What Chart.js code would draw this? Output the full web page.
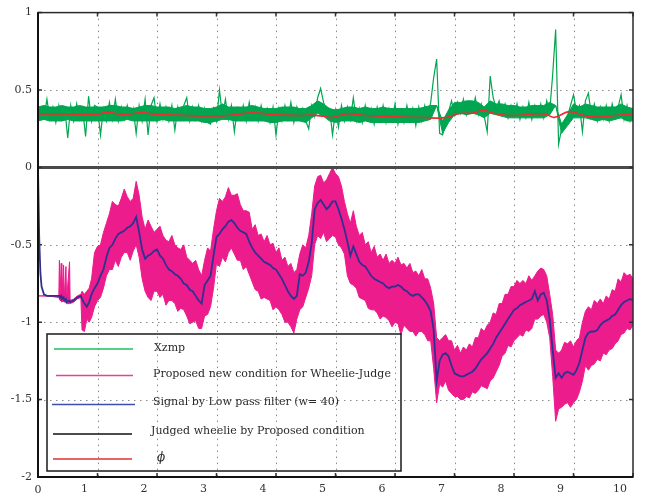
<!DOCTYPE html>
<html><head><meta charset="utf-8">
<script src="https://cdn.jsdelivr.net/npm/chart.js@4"></script>
<style>html,body{margin:0;padding:0;background:#fff}canvas{display:block}</style>
</head><body>
<canvas id="c" width="647" height="500" style="width:647px;height:500px"></canvas>
<script>
// ---------- data ----------
const xTickValues = [0,1,2,3,4,5,6,7,8,9,10];
const yTickValues = [1,0.5,0,-0.5,-1,-1.5,-2];

// bottom signals: irregular start, then sampled every 0.05 s from 0.9 s
const tLowStart = [0,0.02,0.04,0.06,0.1,0.15,0.35,0.36,0.37,0.39,0.40,0.43,0.44,0.47,0.48,0.53,0.54,0.6,0.66,0.72,0.74,0.78,0.82,0.86];
const tLowFrom = 0.9, tLowStep = 0.05;

const lowPass = [
0,-0.45,-0.68,-0.77,-0.82,-0.83,-0.83,-0.83,-0.84,-0.83,-0.85,-0.84,-0.86,-0.85,-0.87,-0.86,-0.87,-0.86,-0.84,-0.83,-0.85,-0.88,-0.90,-0.87,
-0.82,-0.78,-0.75,-0.70,-0.66,-0.58,-0.52,-0.50,-0.46,-0.43,
-0.42,-0.41,-0.39,-0.38,-0.36,-0.32,-0.42,-0.53,-0.59,-0.57,
-0.56,-0.54,-0.53,-0.57,-0.59,-0.63,-0.66,-0.67,-0.69,-0.70,
-0.72,-0.75,-0.76,-0.79,-0.80,-0.83,-0.86,-0.88,-0.76,-0.73,
-0.70,-0.57,-0.45,-0.43,-0.40,-0.38,-0.35,-0.34,-0.36,-0.39,
-0.41,-0.42,-0.43,-0.48,-0.52,-0.55,-0.57,-0.59,-0.61,-0.62,
-0.63,-0.65,-0.66,-0.69,-0.72,-0.76,-0.80,-0.83,-0.85,-0.83,
-0.69,-0.70,-0.68,-0.61,-0.49,-0.27,-0.23,-0.21,-0.24,-0.27,
-0.25,-0.22,-0.22,-0.27,-0.33,-0.40,-0.48,-0.57,-0.51,-0.56,
-0.61,-0.63,-0.64,-0.67,-0.70,-0.72,-0.73,-0.74,-0.75,-0.77,
-0.78,-0.77,-0.77,-0.76,-0.77,-0.79,-0.80,-0.82,-0.83,-0.82,
-0.82,-0.84,-0.86,-0.89,-0.93,-1.05,-1.38,-1.25,-1.21,-1.20,
-1.22,-1.28,-1.33,-1.34,-1.35,-1.35,-1.34,-1.33,-1.32,-1.30,
-1.27,-1.24,-1.22,-1.20,-1.17,-1.14,-1.10,-1.07,-1.04,-1.01,
-0.98,-0.95,-0.92,-0.91,-0.89,-0.88,-0.87,-0.86,-0.85,-0.80,
-0.86,-0.82,-0.81,-0.86,-0.98,-1.18,-1.36,-1.33,-1.36,-1.33,
-1.32,-1.33,-1.34,-1.31,-1.26,-1.18,-1.10,-1.07,-1.06,-1.06,
-1.05,-1.02,-1.00,-0.99,-0.98,-0.96,-0.95,-0.92,-0.89,-0.87,
-0.86,-0.85,-0.86];

const proposedHigh = [
-0.83,-0.83,-0.83,-0.83,-0.83,-0.83,-0.83,-0.60,-0.84,-0.62,-0.84,-0.63,-0.85,-0.64,-0.86,-0.61,-0.86,-0.85,-0.83,-0.82,-0.80,-0.82,-0.80,-0.78,
-0.72,-0.55,-0.51,-0.50,-0.42,-0.36,-0.30,-0.22,-0.24,-0.25,
-0.20,-0.14,-0.19,-0.22,-0.20,-0.09,-0.18,-0.32,-0.40,-0.34,
-0.38,-0.42,-0.40,-0.38,-0.44,-0.47,-0.48,-0.44,-0.50,-0.52,
-0.53,-0.50,-0.58,-0.60,-0.62,-0.60,-0.66,-0.70,-0.60,-0.52,
-0.54,-0.40,-0.28,-0.20,-0.22,-0.19,-0.13,-0.18,-0.18,-0.17,
-0.24,-0.28,-0.28,-0.29,-0.40,-0.37,-0.44,-0.43,-0.48,-0.44,
-0.50,-0.49,-0.55,-0.52,-0.60,-0.58,-0.64,-0.62,-0.68,-0.66,
-0.56,-0.50,-0.52,-0.44,-0.30,-0.12,-0.06,-0.05,-0.10,-0.08,
-0.04,0.0,-0.04,-0.06,-0.12,-0.22,-0.30,-0.36,-0.28,-0.38,
-0.44,-0.42,-0.50,-0.48,-0.55,-0.51,-0.58,-0.56,-0.60,-0.56,
-0.62,-0.60,-0.62,-0.58,-0.63,-0.62,-0.65,-0.62,-0.68,-0.67,
-0.70,-0.66,-0.72,-0.72,-0.78,-0.88,-1.10,-1.12,-1.10,-1.08,
-1.12,-1.12,-1.18,-1.15,-1.20,-1.16,-1.18,-1.14,-1.16,-1.10,
-1.10,-1.04,-1.06,-1.02,-1.00,-0.94,-0.95,-0.88,-0.88,-0.82,
-0.82,-0.77,-0.77,-0.73,-0.75,-0.73,-0.75,-0.70,-0.73,-0.70,
-0.67,-0.65,-0.66,-0.70,-0.82,-0.95,-1.18,-1.20,-1.18,-1.13,
-1.14,-1.12,-1.16,-1.12,-1.10,-1.00,-0.93,-0.90,-0.92,-0.86,
-0.88,-0.85,-0.88,-0.83,-0.85,-0.79,-0.80,-0.72,-0.74,-0.68,
-0.70,-0.69,-0.72];

const proposedLow = [
-0.83,-0.83,-0.83,-0.83,-0.83,-0.83,-0.84,-0.85,-0.86,-0.86,-0.87,-0.86,-0.87,-0.87,-0.88,-0.88,-0.88,-0.87,-0.85,-0.84,-1.05,-1.06,-0.98,-1.00,
-0.97,-0.90,-0.86,-0.84,-0.78,-0.70,-0.66,-0.66,-0.60,-0.64,
-0.58,-0.55,-0.55,-0.60,-0.54,-0.50,-0.58,-0.72,-0.80,-0.84,
-0.86,-0.80,-0.80,-0.84,-0.82,-0.89,-0.86,-0.86,-0.88,-0.93,
-0.91,-0.92,-0.96,-1.01,-1.00,-0.99,-1.04,-1.04,-0.96,-0.95,
-0.90,-0.78,-0.62,-0.64,-0.58,-0.61,-0.55,-0.52,-0.56,-0.60,
-0.60,-0.66,-0.64,-0.69,-0.74,-0.79,-0.80,-0.85,-0.84,-0.85,
-0.86,-0.92,-0.90,-0.92,-0.95,-1.00,-1.00,-1.03,-1.07,-0.98,
-0.92,-0.90,-0.84,-0.78,-0.70,-0.50,-0.44,-0.46,-0.42,-0.48,
-0.46,-0.44,-0.45,-0.50,-0.52,-0.56,-0.70,-0.75,-0.76,-0.78,
-0.84,-0.85,-0.86,-0.91,-0.92,-0.92,-0.94,-0.98,-0.96,-0.97,
-0.99,-1.03,-1.00,-1.01,-1.08,-1.02,-1.04,-1.06,-1.06,-1.09,
-1.06,-1.06,-1.08,-1.12,-1.12,-1.30,-1.52,-1.40,-1.42,-1.38,
-1.44,-1.46,-1.48,-1.48,-1.50,-1.50,-1.48,-1.49,-1.45,-1.46,
-1.44,-1.41,-1.42,-1.43,-1.38,-1.36,-1.32,-1.28,-1.22,-1.20,
-1.15,-1.16,-1.12,-1.10,-1.08,-1.09,-1.05,-1.06,-1.04,-0.98,
-0.98,-0.96,-0.95,-1.00,-1.10,-1.35,-1.64,-1.56,-1.55,-1.53,
-1.52,-1.55,-1.52,-1.50,-1.45,-1.38,-1.28,-1.31,-1.28,-1.27,
-1.24,-1.25,-1.20,-1.21,-1.18,-1.17,-1.14,-1.12,-1.08,-1.07,
-1.04,-1.05,-1.02];

// top: Xzmp samples every 0.05 s
const xzmpStep = 0.05;
const xzmp = [
0.30,0.38,0.32,0.44,0.31,0.39,0.29,0.40,0.31,0.38,
0.19,0.40,0.30,0.41,0.31,0.38,0.20,0.46,0.30,0.40,
0.39,0.21,0.38,0.30,0.42,0.31,0.44,0.30,0.39,0.31,
0.40,0.32,0.38,0.22,0.40,0.30,0.44,0.21,0.40,0.45,
0.30,0.41,0.31,0.39,0.30,0.40,0.24,0.39,0.31,0.40,
0.45,0.30,0.39,0.31,0.40,0.30,0.38,0.29,0.28,0.38,
0.30,0.50,0.33,0.44,0.31,0.40,0.23,0.38,0.31,0.40,
0.30,0.42,0.31,0.39,0.30,0.40,0.31,0.38,0.29,0.39,
0.21,0.38,0.30,0.40,0.31,0.42,0.29,0.39,0.31,0.38,
0.30,0.25,0.40,0.33,0.45,0.51,0.42,0.36,0.38,0.21,
0.37,0.26,0.40,0.30,0.39,0.31,0.45,0.30,0.38,0.29,
0.40,0.31,0.38,0.28,0.39,0.30,0.40,0.29,0.38,0.31,
0.41,0.28,0.37,0.29,0.40,0.30,0.38,0.27,0.39,0.30,
0.40,0.32,0.42,0.58,0.70,0.22,0.21,0.28,0.36,0.43,
0.34,0.42,0.35,0.44,0.34,0.42,0.36,0.45,0.34,0.41,
0.33,0.23,0.59,0.45,0.38,0.43,0.34,0.41,0.32,0.40,
0.33,0.41,0.31,0.39,0.32,0.42,0.31,0.40,0.33,0.41,
0.32,0.43,0.36,0.60,0.89,0.15,0.25,0.30,0.33,0.40,
0.47,0.36,0.40,0.23,0.43,0.48,0.34,0.41,0.30,0.39,
0.31,0.40,0.30,0.41,0.32,0.39,0.47,0.31,0.40,0.30,
0.36];
// dense core of the Xzmp noise, every 0.1 s
const xzmpBandStep = 0.1;
const xzmpCoreHigh = [
0.39,0.40,0.39,0.39,0.40,0.39,0.39,0.40,0.39,0.39,
0.39,0.39,0.40,0.40,0.39,0.39,0.38,0.39,0.40,0.40,
0.39,0.39,0.39,0.38,0.39,0.40,0.39,0.39,0.38,0.38,
0.39,0.41,0.39,0.39,0.39,0.39,0.40,0.39,0.38,0.38,
0.38,0.39,0.39,0.39,0.38,0.38,0.40,0.43,0.41,0.38,
0.37,0.38,0.39,0.39,0.38,0.39,0.38,0.38,0.39,0.38,
0.38,0.38,0.38,0.38,0.38,0.39,0.40,0.40,0.30,0.37,
0.42,0.42,0.43,0.43,0.42,0.39,0.43,0.41,0.41,0.40,
0.40,0.39,0.39,0.40,0.40,0.40,0.42,0.40,0.28,0.34,
0.41,0.39,0.41,0.40,0.39,0.39,0.39,0.39,0.41,0.39,
0.38];
const xzmpCoreLow = [
0.30,0.31,0.30,0.30,0.30,0.31,0.30,0.30,0.30,0.30,
0.30,0.30,0.30,0.30,0.30,0.31,0.30,0.30,0.30,0.30,
0.30,0.31,0.30,0.30,0.30,0.30,0.30,0.30,0.29,0.29,
0.30,0.31,0.31,0.30,0.30,0.30,0.30,0.30,0.30,0.29,
0.29,0.30,0.30,0.30,0.30,0.29,0.32,0.35,0.33,0.30,
0.29,0.30,0.30,0.30,0.29,0.30,0.29,0.29,0.29,0.29,
0.29,0.29,0.29,0.29,0.29,0.30,0.31,0.40,0.22,0.29,
0.34,0.35,0.34,0.35,0.34,0.32,0.35,0.34,0.33,0.32,
0.32,0.32,0.32,0.32,0.32,0.32,0.34,0.40,0.22,0.27,
0.32,0.32,0.32,0.31,0.30,0.31,0.30,0.31,0.32,0.30,
0.30];

const tPhi = [0,0.5,1.0,1.15,1.35,1.55,1.74,1.95,2.2,2.5,2.8,3.1,3.35,3.6,3.85,4.1,4.4,4.6,4.8,4.95,
5.2,5.5,6.0,6.5,6.8,7.1,7.3,7.48,7.65,7.85,8.1,8.4,8.55,8.68,8.93,9.2,9.45,9.7,10.0];
const phi = [0.345,0.345,0.343,0.357,0.345,0.345,0.355,0.343,0.34,0.335,0.332,0.333,0.343,0.353,0.345,0.338,0.335,0.338,0.33,0.322,
0.347,0.335,0.327,0.322,0.32,0.348,0.35,0.368,0.35,0.337,0.337,0.347,0.34,0.323,0.36,0.333,0.325,0.335,0.342];
const tJudged = [0,10];
const judged = [0,0];

const legendLabels = ['Xzmp','Proposed new condition for Wheelie-Judge','Signal by Low pass filter (w= 40)','Judged wheelie by Proposed condition','\u03D5'];

// ---------- helpers ----------
const grid = (n, start, step) => Array.from({length:n}, (_, i) => +(start + i * step).toFixed(3));
const tLow = tLowStart.concat(grid(lowPass.length - tLowStart.length, tLowFrom, tLowStep));
const tX = grid(xzmp.length, 0, xzmpStep);
const tBand = grid(xzmpCoreHigh.length, 0, xzmpBandStep);
const pts = (ts, vs) => vs.map((v, i) => ({x: ts[i], y: v}));

const C = {green:'#00a650', pink:'#ec1c8c', blue:'#2e3192', red:'#ee2d2f', black:'#4a4a4a'};
const FONT = '"DejaVu Serif", serif';

const gridPlugin = {
  id:'dotGrid',
  beforeDatasetsDraw(chart){
    const {ctx, chartArea:a, scales:{x, y}} = chart;
    ctx.save();
    ctx.strokeStyle = '#8a8a8a'; ctx.lineWidth = 1; ctx.setLineDash([1.5, 4.5]);
    x.ticks.forEach(t => {
      if (t.value <= x.min || t.value >= x.max) return;
      const p = Math.round(x.getPixelForValue(t.value)) + 0.5;
      ctx.beginPath(); ctx.moveTo(p, a.top); ctx.lineTo(p, a.bottom); ctx.stroke();
    });
    y.ticks.forEach(t => {
      if (t.value <= y.min || t.value >= y.max || t.value === 0) return;
      const p = Math.round(y.getPixelForValue(t.value)) + 0.5;
      ctx.beginPath(); ctx.moveTo(a.left, p); ctx.lineTo(a.right, p); ctx.stroke();
    });
    ctx.restore();
  }
};

const framePlugin = {
  id:'frame',
  afterDatasetsDraw(chart){
    const {ctx, chartArea:a, scales:{x, y}} = chart;
    ctx.save();
    ctx.setLineDash([]);
    ctx.strokeStyle = '#333'; ctx.lineWidth = 1.5;
    x.ticks.forEach(t => {
      const p = x.getPixelForValue(t.value);
      ctx.beginPath(); ctx.moveTo(p, a.top); ctx.lineTo(p, a.top + 4);
      ctx.moveTo(p, a.bottom); ctx.lineTo(p, a.bottom - 4); ctx.stroke();
    });
    y.ticks.forEach(t => {
      const p = y.getPixelForValue(t.value);
      ctx.beginPath(); ctx.moveTo(a.left, p); ctx.lineTo(a.left + 4, p);
      ctx.moveTo(a.right, p); ctx.lineTo(a.right - 4, p); ctx.stroke();
    });
    ctx.strokeStyle = '#2a2a2a'; ctx.lineWidth = 1.5;
    ctx.strokeRect(a.left, a.top, a.right - a.left, a.bottom - a.top);
    ctx.strokeStyle = '#111'; ctx.lineWidth = 2;
    ctx.beginPath(); ctx.moveTo(a.left, a.top); ctx.lineTo(a.left, a.bottom); ctx.lineTo(a.right, a.bottom); ctx.stroke();

    // x label for 0 sits under the y axis
    ctx.fillStyle = '#333'; ctx.font = '11px ' + FONT;
    ctx.textAlign = 'center'; ctx.textBaseline = 'middle';
    ctx.fillText('0', x.getPixelForValue(0), a.bottom + 13);

    // legend box
    const L = 47, T = 334, R = 401, B = 471;
    ctx.strokeStyle = '#1a1a1a'; ctx.lineWidth = 1.5;
    ctx.strokeRect(L, T, R - L, B - T);
    const rows = [
      {c:'#21bf5f', x0:54, x1:133, ly:349, tx:154, ty:348},
      {c:'#e8419b', x0:56, x1:133, ly:375.5, tx:153, ty:374.5},
      {c:'#3c4fae', x0:52, x1:135, ly:404.5, tx:153, ty:402},
      {c:'#111111', x0:53, x1:132, ly:434, tx:151, ty:431.5},
      {c:'#e0302f', x0:53, x1:132, ly:459, tx:157, ty:458}
    ];
    rows.forEach((r, i) => {
      ctx.strokeStyle = r.c; ctx.lineWidth = 1.5;
      ctx.beginPath(); ctx.moveTo(r.x0, r.ly); ctx.lineTo(r.x1, r.ly); ctx.stroke();
      ctx.fillStyle = '#2b2b2b';
      ctx.font = (i === 4 ? 'italic 12px ' : '11px ') + FONT;
      ctx.textAlign = 'left'; ctx.textBaseline = 'middle';
      ctx.fillText(legendLabels[i], r.tx, r.ty);
    });
    ctx.restore();
  }
};

new Chart(document.getElementById('c'), {
  type:'line',
  data:{
    datasets:[
      {label:legendLabels[3], data:pts(tJudged, judged), borderColor:C.black, borderWidth:3, order:0},
      {label:legendLabels[4], data:pts(tPhi, phi), borderColor:C.red, borderWidth:1.6, tension:0.4, order:1},
      {label:legendLabels[0], data:pts(tX, xzmp), borderColor:C.green, borderWidth:1.2, order:2},
      {label:legendLabels[0] + ' core low', data:pts(tBand, xzmpCoreLow), borderColor:C.green, borderWidth:1, fill:false, order:7},
      {label:legendLabels[0] + ' core', data:pts(tBand, xzmpCoreHigh), borderColor:C.green, borderWidth:1, backgroundColor:C.green, fill:'-1', order:6},
      {label:legendLabels[2], data:pts(tLow, lowPass), borderColor:C.blue, borderWidth:1.8, order:3},
      {label:legendLabels[1] + ' (low)', data:pts(tLow, proposedLow), borderColor:C.pink, borderWidth:1, fill:false, order:5},
      {label:legendLabels[1], data:pts(tLow, proposedHigh), borderColor:C.pink, borderWidth:1, backgroundColor:C.pink, fill:'-1', order:4}
    ]
  },
  options:{
    responsive:false, animation:false, devicePixelRatio:1,
    layout:{padding:{left:0, right:14, top:7, bottom:0}},
    elements:{point:{radius:0}, line:{tension:0}},
    plugins:{legend:{display:false}, tooltip:{enabled:false}},
    scales:{
      x:{type:'linear', min:0, max:10,
        afterBuildTicks:s => { s.ticks = xTickValues.map(v => ({value:v})); },
        ticks:{font:{family:FONT, size:11}, color:'#333', labelOffset:-13, padding:6, maxRotation:0, autoSkip:false,
          callback:v => v === 0 ? '' : String(v)},
        grid:{display:false, drawTicks:false}, border:{display:false},
        afterFit:s => { s.height = 23; }},
      y:{type:'linear', min:-2, max:1,
        afterBuildTicks:s => { s.ticks = yTickValues.map(v => ({value:v})); },
        ticks:{font:{family:FONT, size:11}, color:'#333', padding:6, callback:v => String(v)},
        grid:{display:false, drawTicks:false}, border:{display:false},
        afterFit:s => { s.width = 38; }}
    }
  },
  plugins:[gridPlugin, framePlugin]
});
</script>
</body></html>
